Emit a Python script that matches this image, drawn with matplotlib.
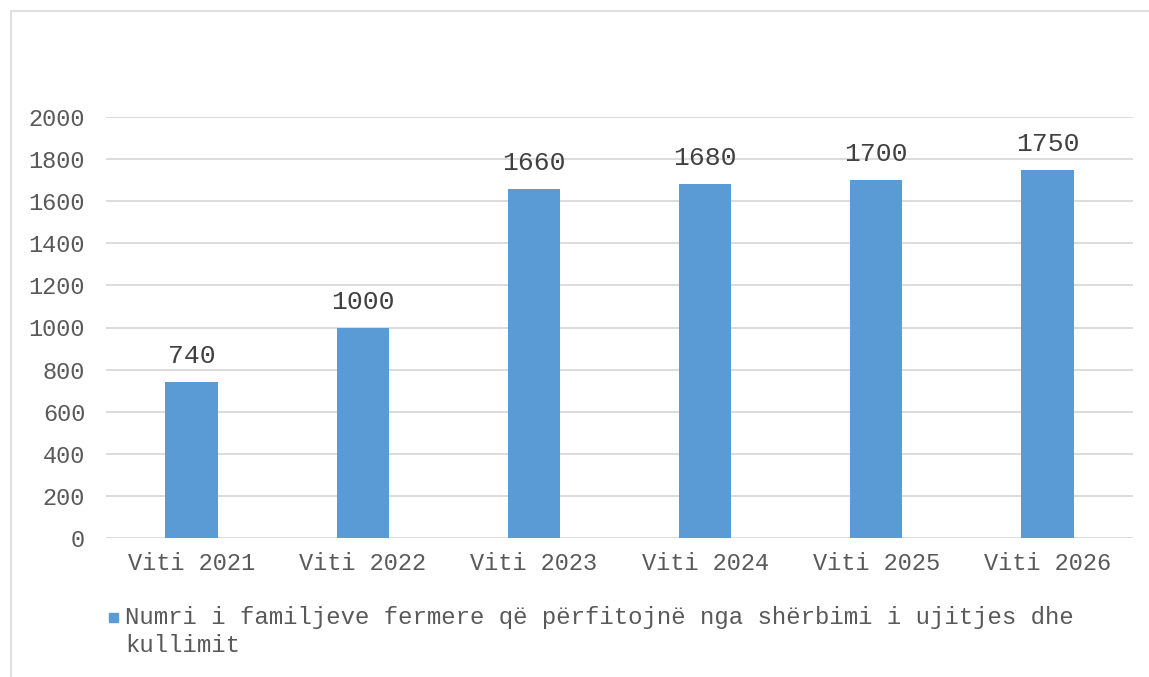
import matplotlib
matplotlib.use("Agg")
import matplotlib.pyplot as plt
from matplotlib.patches import Rectangle

categories = ["Viti 2021", "Viti 2022", "Viti 2023", "Viti 2024", "Viti 2025", "Viti 2026"]
values = [740, 1000, 1660, 1680, 1700, 1750]
series_name = "Numri i familjeve fermere që përfitojnë nga shërbimi i ujitjes dhe\nkullimit"
yticks = list(range(0, 2001, 200))

plt.rcParams['font.family'] = ['Liberation Mono', 'DejaVu Sans Mono']

W, H = 1149, 677
fig = plt.figure(figsize=(W/100, H/100), dpi=100)
ax = fig.add_axes([106/W, 1-538/H, (1133-106)/W, (538-117)/H])

bar_color = "#5B9BD5"
text_gray = "#595959"
grid_gray = "#D9D9D9"

x = list(range(len(categories)))
bars = ax.bar(x, values, width=0.305, color=bar_color, zorder=3)
ax.set_xlim(-0.5, len(categories)-0.5)
ax.set_ylim(0, 2000)
ax.set_yticks(yticks)
ax.set_yticklabels([str(t) for t in yticks], fontsize=17, color=text_gray)
ax.set_xticks(x)
ax.set_xticklabels(categories, fontsize=17, color=text_gray)
ax.tick_params(axis='both', length=0)
ax.tick_params(axis='y', pad=15)
ax.tick_params(axis='x', pad=10)
for s in ax.spines.values():
    s.set_visible(False)
ax.yaxis.grid(True, color=grid_gray, linewidth=1.3, zorder=0)
ax.set_axisbelow(True)

for xi, v in zip(x, values):
    ax.annotate(str(v), (xi, v), xytext=(0, 10), textcoords="offset points",
                ha="center", va="bottom", fontsize=19, color="#404040")

# legend
fig.patches.append(Rectangle((109/W, 1-622/H), 9/W, 9/H, transform=fig.transFigure,
                             color=bar_color, figure=fig))
fig.text(125/W, 1-606/H, series_name, fontsize=17.3, color=text_gray,
         va="top", ha="left", linespacing=1.25)

# outer border (right edge lies outside the image)
fig.patches.append(Rectangle((11/W, -0.05), 1.0, 1-11/H+0.05, transform=fig.transFigure,
                             fill=False, edgecolor="#D9D9D9", linewidth=1.2, figure=fig))

fig.savefig("out.png", dpi=100, facecolor="white")
